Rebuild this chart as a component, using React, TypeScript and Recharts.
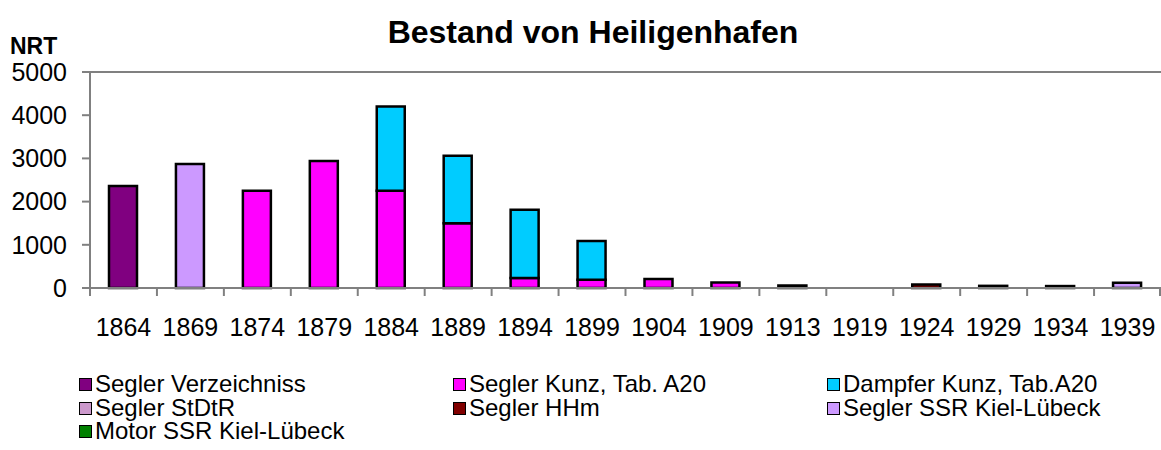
import React from 'react';
import { BarChart, Bar, XAxis, YAxis, CartesianGrid } from 'recharts';

// Bestand von Heiligenhafen (NRT)
const years = ['1864', '1869', '1874', '1879', '1884', '1889', '1894', '1899', '1904', '1909', '1913', '1919', '1924', '1929', '1934', '1939'];

const seglerVerzeichniss = [2360, null, null, null, null, null, null, null, null, null, null, null, null, null, null, null];
const seglerKunz = [null, null, 2250, 2940, 2250, 1500, 230, 190, 210, 130, null, null, null, null, null, null];
const dampferKunz = [null, null, null, null, 1950, 1560, 1580, 900, null, null, null, null, null, null, null, null];
const seglerStDtR = [null, null, null, null, null, null, null, null, null, null, null, null, null, null, null, null];
const seglerHHm = [null, null, null, null, null, null, null, null, null, null, 60, null, 80, 50, 45, null];
const seglerSSR = [null, 2870, null, null, null, null, null, null, null, null, null, null, null, null, null, 120];
const motorSSR = [null, null, null, null, null, null, null, null, null, null, null, null, null, null, null, null];

const yTicks = [0, 1000, 2000, 3000, 4000, 5000];

const series = [
  { key: 'verz', name: 'Segler Verzeichniss', values: seglerVerzeichniss, color: '#800080' },
  { key: 'kunz', name: 'Segler Kunz, Tab. A20', values: seglerKunz, color: '#FF00FF' },
  { key: 'dampfer', name: 'Dampfer Kunz, Tab.A20', values: dampferKunz, color: '#00CCFF' },
  { key: 'stdtr', name: 'Segler StDtR', values: seglerStDtR, color: '#CC99CC' },
  { key: 'hhm', name: 'Segler HHm', values: seglerHHm, color: '#800000' },
  { key: 'ssr', name: 'Segler SSR Kiel-Lübeck', values: seglerSSR, color: '#CC99FF' },
  { key: 'motor', name: 'Motor SSR Kiel-Lübeck', values: motorSSR, color: '#008000' },
];

const data = years.map((year, i) => {
  const row: any = { year };
  series.forEach(s => {
    row[s.key] = s.values[i];
  });
  return row;
});

const FONT = 'Arial, "Liberation Sans", sans-serif';

const CHART_W = 1161;
const Y_AXIS_W = 90;
const BAND = (CHART_W - Y_AXIS_W) / years.length;

// category label + Excel style tick marks between the categories
const YearTick = (props: any) => {
  const { x, y, payload, index } = props;
  const axisY = y - 30;
  const last = index === years.length - 1;
  return (
    <g>
      <line x1={x - BAND / 2} x2={x - BAND / 2} y1={axisY} y2={axisY + 8} stroke="#808080" strokeWidth={2} />
      {last && <line x1={x + BAND / 2 - 1} x2={x + BAND / 2 - 1} y1={axisY} y2={axisY + 8} stroke="#808080" strokeWidth={2} />}
      <text x={x} y={y} dy="0.71em" textAnchor="middle" fill="#000" fontSize={25} fontFamily={FONT}>
        {payload.value}
      </text>
    </g>
  );
};

// legend laid out in three columns, row by row like the Excel original
const legendCols = [79, 453, 827];
const legendRows = [384, 408, 431];

export default function App() {
  return (
    <div style={{ position: 'absolute', left: 0, top: 0, width: 1161, height: 450, background: '#fff', fontFamily: FONT, overflow: 'hidden' }}>
      <div style={{ position: 'absolute', left: 0, width: 1161, top: 14, textAlign: 'center', paddingLeft: 25, boxSizing: 'border-box', fontSize: 32, fontWeight: 'bold', lineHeight: '36px', color: '#000' }}>
        Bestand von Heiligenhafen
      </div>
      <div style={{ position: 'absolute', left: 10, top: 33, fontSize: 23, fontWeight: 'bold', lineHeight: '26px', color: '#000' }}>
        NRT
      </div>

      <BarChart
        width={CHART_W}
        height={350}
        data={data}
        margin={{ top: 72, right: 0, bottom: 0, left: 0 }}
        barSize={28}
        style={{ position: 'absolute', left: 0, top: 0 }}
      >
        <CartesianGrid yAxisId="y" xAxisId="cat" horizontal vertical={false} horizontalValues={[5000]} stroke="#808080" strokeWidth={2} />
        <XAxis
          xAxisId="cat"
          dataKey="year"
          height={62}
          stroke="#808080"
          strokeWidth={2}
          tickLine={false}
          tickSize={6}
          tickMargin={24}
          interval={0}
          tick={<YearTick />}
        />
        <YAxis
          yAxisId="y"
          width={Y_AXIS_W}
          domain={[0, 5000]}
          ticks={yTicks}
          interval={0}
          tickSize={8}
          tickMargin={15}
          stroke="#808080"
          strokeWidth={2}
          tick={{ fill: '#000', fontSize: 25, fontFamily: FONT }}
        />
        {series.map(s => (
          <Bar
            key={s.key}
            xAxisId="cat"
            yAxisId="y"
            dataKey={s.key}
            name={s.name}
            stackId="a"
            fill={s.color}
            stroke="#000"
            strokeWidth={2.5}
            isAnimationActive={false}
          />
        ))}
      </BarChart>

      {series.map((s, i) => {
        const col = legendCols[i % 3];
        const row = legendRows[Math.floor(i / 3)];
        return (
          <div key={s.key} style={{ position: 'absolute', left: col, top: row - 11, height: 22, display: 'flex', alignItems: 'center', fontSize: 24, lineHeight: '22px', color: '#000', whiteSpace: 'nowrap' }}>
            <span style={{ display: 'inline-block', width: 11, height: 11, background: s.color, border: '1.5px solid #000', marginRight: 3 }} />
            <span>{s.name}</span>
          </div>
        );
      })}
    </div>
  );
}
